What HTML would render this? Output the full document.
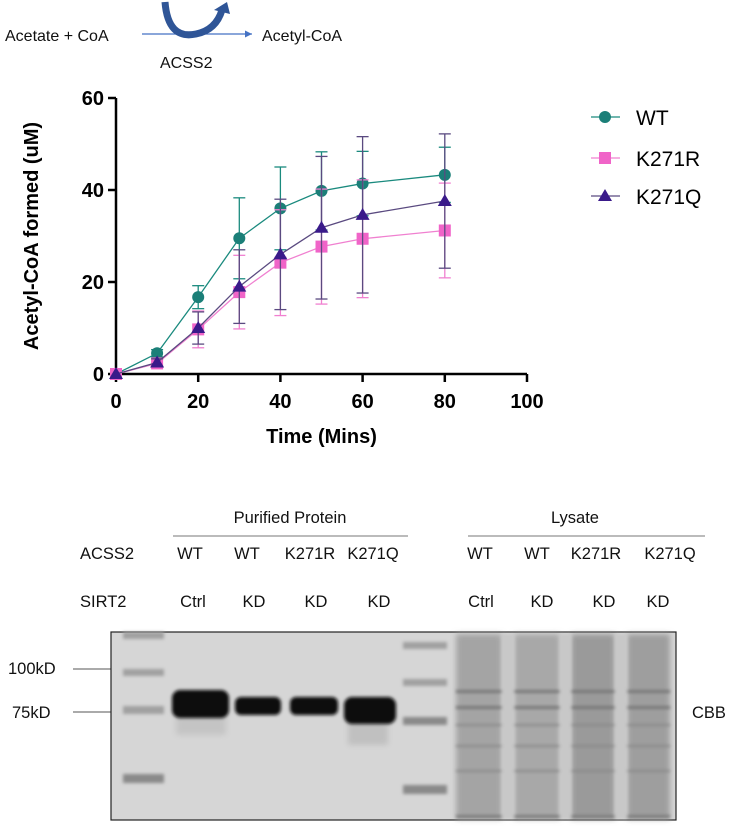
<!DOCTYPE html>
<html><head><meta charset="utf-8"><style>
body{margin:0;background:#fff;width:735px;height:836px;overflow:hidden;font-family:"Liberation Sans",sans-serif}
svg{position:absolute;left:0;top:0}
</style></head><body>
<svg width="735" height="836">
<defs>
<marker id="ah" markerWidth="8" markerHeight="8" refX="6" refY="3" orient="auto"><path d="M0,0 L6,3 L0,6z" fill="#4472c4"/></marker>
<filter id="blur"><feGaussianBlur stdDeviation="1.5"/></filter>
<filter id="blur2"><feGaussianBlur stdDeviation="3"/></filter>
</defs>
<g font-size="16" fill="#111">
<text x="5" y="41">Acetate + CoA</text>
<line x1="142" y1="34" x2="252" y2="34" stroke="#4472c4" stroke-width="1.2" marker-end="url(#ah)"/>
<text x="262" y="41">Acetyl-CoA</text>
<text x="160" y="68">ACSS2</text>
<path d="M165,2 Q168,40 196,34 Q216,30 222,10" fill="none" stroke="#2f5597" stroke-width="7"/>
<path d="M214,10 L227,2 L230,14z" fill="#2f5597"/>
</g>
<g id="chart"></g>
<g font-size="16.5" fill="#111">
<text x="290" y="523" text-anchor="middle">Purified Protein</text>
<line x1="173" y1="536" x2="408" y2="536" stroke="#777"/>
<text x="575" y="523" text-anchor="middle">Lysate</text>
<line x1="468" y1="536" x2="705" y2="536" stroke="#777"/>
<text x="80" y="559">ACSS2</text>
<text x="80" y="607">SIRT2</text>
<g text-anchor="middle">
<text x="190" y="559">WT</text><text x="247" y="559">WT</text><text x="310" y="559">K271R</text><text x="373" y="559">K271Q</text>
<text x="480" y="559">WT</text><text x="537" y="559">WT</text><text x="596" y="559">K271R</text><text x="670" y="559">K271Q</text>
<text x="193" y="607">Ctrl</text><text x="254" y="607">KD</text><text x="316" y="607">KD</text><text x="379" y="607">KD</text>
<text x="481" y="607">Ctrl</text><text x="542" y="607">KD</text><text x="604" y="607">KD</text><text x="658" y="607">KD</text>
</g>
<text x="8" y="674">100kD</text>
<line x1="73" y1="669" x2="123" y2="669" stroke="#555"/>
<text x="12" y="718">75kD</text>
<line x1="73" y1="712" x2="123" y2="712" stroke="#555"/>
<text x="692" y="718">CBB</text>
</g>
<g>
<rect x="111" y="632" width="565" height="188" fill="#d6d6d6" stroke="#222" stroke-width="1.2"/>
<g filter="url(#blur)" fill="#a0a0a0">
<rect x="123" y="632" width="41" height="7"/><rect x="123" y="669" width="41" height="7"/><rect x="123" y="706" width="41" height="8"/><rect x="123" y="774" width="41" height="9" fill="#8a8a8a"/>
<rect x="403" y="642" width="44" height="7"/><rect x="403" y="679" width="44" height="7"/><rect x="403" y="717" width="44" height="8" fill="#8a8a8a"/><rect x="403" y="785" width="44" height="9" fill="#8a8a8a"/>
</g>
<g filter="url(#blur2)">
<rect x="456" y="634" width="46" height="185" fill="#a4a4a4"/><rect x="514" y="634" width="46" height="185" fill="#a8a8a8"/><rect x="571" y="634" width="44" height="185" fill="#9a9a9a"/><rect x="627" y="634" width="43" height="185" fill="#9e9e9e"/>
<rect x="176" y="715" width="50" height="20" fill="#c4c4c4"/><rect x="348" y="720" width="40" height="25" fill="#c0c0c0"/>
</g>
<g filter="url(#blur)" fill="#777">
<rect x="456" y="690" width="214" height="3"/><rect x="456" y="706" width="214" height="3"/><rect x="456" y="724" width="214" height="2" fill="#888"/><rect x="456" y="745" width="214" height="2" fill="#888"/><rect x="456" y="770" width="214" height="2" fill="#888"/><rect x="456" y="815" width="214" height="3"/>
<rect x="502" y="634" width="12" height="185" fill="#c8c8c8"/><rect x="560" y="634" width="11" height="185" fill="#c8c8c8"/><rect x="615" y="634" width="12" height="185" fill="#c8c8c8"/>
</g>
<g filter="url(#blur)" fill="#0a0a0a">
<rect x="172" y="690" width="57" height="28" rx="8"/><rect x="235" y="697" width="46" height="18" rx="6"/><rect x="290" y="697" width="48" height="18" rx="6"/><rect x="344" y="697" width="52" height="27" rx="8"/>
</g>
</g>
</svg>
<script>
const times=[0,10,20,30,40,50,60,80];
const wt=[0,4.5,16.7,29.5,36,39.8,41.4,43.3];
const wtErr=[0,0.8,2.5,8.8,9,8.5,7,6];
const k271r=[0,2.3,9.7,17.8,24.2,27.7,29.4,31.2];
const k271rErr=[0,0.8,4,8,11.5,12.5,12.8,10.3];
const k271q=[0,2.5,10,19,26,31.8,34.6,37.6];
const k271qErr=[0,0.8,3.5,8,12,15.5,17,14.6];
const xTicks=[0,20,40,60,80,100];
const yTicks=[0,20,40,60];
const NS="http://www.w3.org/2000/svg";
const g=document.getElementById('chart');
const X=v=>116+v*4.11, Y=v=>374-v*4.6;
function el(t,a,p){const e=document.createElementNS(NS,t);for(const k in a)e.setAttribute(k,a[k]);(p||g).appendChild(e);return e;}
let ax=el('line',{x1:X(0),y1:Y(0),x2:X(100),y2:Y(0),stroke:'#000','stroke-width':2.5});


let ay=el('line',{x1:X(0),y1:Y(0),x2:X(0),y2:Y(60),stroke:'#000','stroke-width':2.5});


xTicks.forEach(t=>{el('line',{x1:X(t),y1:Y(0),x2:X(t),y2:Y(0)+8,stroke:'#000','stroke-width':2.5});
const tx=el('text',{x:X(t),y:Y(0)+34,'text-anchor':'middle','font-size':20,'font-weight':'bold'});tx.textContent=t;

});
yTicks.forEach(t=>{el('line',{x1:X(0)-8,y1:Y(t),x2:X(0),y2:Y(t),stroke:'#000','stroke-width':2.5});
const tx=el('text',{x:X(0)-12,y:Y(t)+7,'text-anchor':'end','font-size':20,'font-weight':'bold'});tx.textContent=t;

});
const xt=el('text',{x:X(50),y:443,'text-anchor':'middle','font-size':20,'font-weight':'bold'});xt.textContent='Time (Mins)';


const yt=el('text',{x:0,y:0,'text-anchor':'middle','font-size':20,'font-weight':'bold',transform:'translate(38,236) rotate(-90)'});yt.textContent='Acetyl-CoA formed (uM)';


function marker(shape,x,y,c,parent){
 if(shape==='c')return el('circle',{cx:x,cy:y,r:6,fill:c},parent);
 if(shape==='s')return el('rect',{x:x-6,y:y-6,width:12,height:12,fill:c},parent);
 return el('path',{d:`M${x},${y-7} L${x+7},${y+5} L${x-7},${y+5}z`,fill:c},parent);
}
const series=[['wt',wt,wtErr,'#1a8a7e','#1b7f78','c'],['k271r',k271r,k271rErr,'#f080d0','#f064c8','s'],['k271q',k271q,k271qErr,'#5a4a80','#3a1a8a','t']];
series.forEach(([n,v,e,lc,mc,sh])=>{
 const sg=el('g',{});
 
 
 v.forEach((d,i)=>{if(e[i]>0){const x=X(times[i]);el('line',{x1:x,y1:Y(d-e[i]),x2:x,y2:Y(d+e[i]),stroke:lc,'stroke-width':1.3},sg);
 el('line',{x1:x-6,y1:Y(d-e[i]),x2:x+6,y2:Y(d-e[i]),stroke:lc,'stroke-width':1.3},sg);el('line',{x1:x-6,y1:Y(d+e[i]),x2:x+6,y2:Y(d+e[i]),stroke:lc,'stroke-width':1.3},sg);}});
 el('polyline',{points:v.map((d,i)=>X(times[i])+','+Y(d)).join(' '),fill:'none',stroke:lc,'stroke-width':1.3},sg);
 v.forEach((d,i)=>{const m=marker(sh,X(times[i]),Y(d),mc,sg);
 
 });
});
const legend=[['WT','#1a8a7e','#1b7f78','c',117],['K271R','#f080d0','#f064c8','s',158],['K271Q','#5a4a80','#3a1a8a','t',196]];
legend.forEach(([n,lc,mc,sh,y])=>{const lg=el('g',{});
 
 
 el('line',{x1:591,y1:y,x2:620,y2:y,stroke:lc,'stroke-width':1.3},lg);marker(sh,605,y,mc,lg);
 const t=el('text',{x:636,y:y+8,'font-size':21},lg);t.textContent=n;});
</script>
</body></html>
